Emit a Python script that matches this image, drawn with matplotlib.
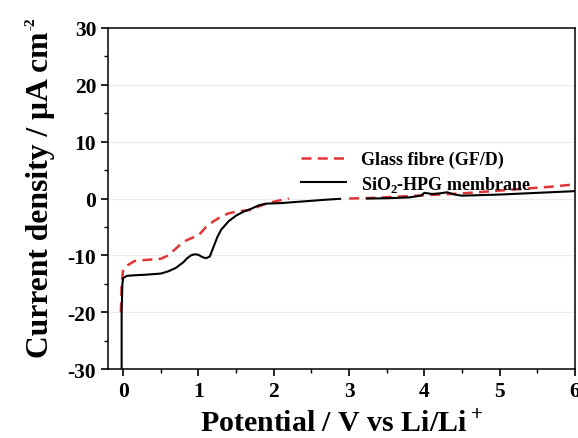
import numpy as np
import matplotlib.pyplot as plt

plt.rcParams['font.family'] = ['Liberation Serif', 'DejaVu Serif']
plt.rcParams['font.weight'] = 'bold'
plt.rcParams['mathtext.fontset'] = 'custom'
plt.rcParams['mathtext.rm'] = 'Liberation Serif:bold'
plt.rcParams['mathtext.bf'] = 'Liberation Serif:bold'
plt.rcParams['axes.unicode_minus'] = False

# === Datos: SiO2-HPG (linea negra)
x_hpg = [-0.02, -0.02, -0.01, 0.0, 0.05, 0.15, 0.3, 0.4, 0.5, 0.6, 0.7, 0.8, 0.85, 0.9,
         0.95, 1.0, 1.05, 1.1, 1.15, 1.2, 1.25, 1.3, 1.4, 1.5, 1.6, 1.7, 1.8, 1.9,
         2.1, 2.3, 2.5, 2.7, 2.88, np.nan, 3.24, 3.5, 3.8, 3.95, 4.0, 4.1, 4.2, 4.3,
         4.4, 4.5, 5.0, 5.5, 6.0]
y_hpg = [-30, -20, -15, -14, -13.6, -13.5, -13.4, -13.3, -13.2, -12.8, -12.2, -11.2, -10.5, -10.0,
         -9.8, -9.9, -10.3, -10.5, -10.2, -8.5, -6.8, -5.5, -4.0, -3.0, -2.3, -1.8, -1.2, -0.9,
         -0.8, -0.6, -0.4, -0.2, -0.05, np.nan, 0.0, 0.05, 0.2, 0.5, 1.0, 0.8, 0.9, 1.1,
         0.7, 0.5, 0.7, 1.0, 1.3]

# === Datos: Glass fibre GF/D (linea roja discontinua)
x_gf = [-0.03, -0.02, 0.0, 0.05, 0.15, 0.3, 0.5, 0.6, 0.7, 0.8, 0.9, 1.0, 1.1, 1.2,
        1.3, 1.4, 1.55, 1.7, 1.8, 1.9, 2.05, 2.2, np.nan, 3.0, 3.3, 3.6, 3.9, 4.2,
        4.5, 4.9, 5.3, 5.7, 6.0]
y_gf = [-20, -15, -12.5, -11.8, -11.0, -10.8, -10.6, -10.0, -8.8, -7.6, -7.0, -6.5, -5.0, -4.0,
        -3.2, -2.6, -2.2, -2.0, -1.4, -0.9, -0.4, 0.0, np.nan, 0.0, 0.1, 0.3, 0.5, 0.7,
        0.9, 1.3, 1.7, 2.1, 2.5]

fig = plt.figure(figsize=(5.78, 4.39), dpi=100)
ax = fig.add_axes([0.187, 0.157, 0.808, 0.777])

ax.plot(x_gf, y_gf, color='#e03535', lw=1.8, ls=(0, (4, 2.5)), label='Glass fibre (GF/D)')
ax.plot(x_hpg, y_hpg, color='black', lw=1.5, label=r'SiO$_2$-HPG membrane')

ax.set_xlim(-0.2, 6)
ax.set_ylim(-30, 30)
ax.set_xticks(np.arange(0, 7, 1))
ax.set_xticks(np.arange(-0.0, 6.01, 0.5), minor=True)
ax.set_yticks(np.arange(-30, 31, 10))
ax.set_yticks(np.arange(-30, 31, 5), minor=True)
ax.tick_params(which='major', direction='out', length=5, width=1.2, labelsize=15.5)
ax.tick_params(which='minor', direction='out', length=3, width=1)
for s in ax.spines.values():
    s.set_linewidth(1.1)

for yv in [-20, -10, 0, 10, 20]:
    ax.axhline(yv, color='#ececec', lw=0.8, zorder=0)

ax.set_xlabel(r'Potential / V vs Li/Li$^+$', fontsize=21.5, fontweight='bold', labelpad=6)

# === Etiqueta y con superindice pequeño
ylab = fig.text(0.07, 0.556, 'Current density / \u03bcA cm', rotation=90,
                fontsize=22.8, fontweight='bold', ha='center', va='center')
fig.canvas.draw()
bb = ylab.get_window_extent()
fig.text((bb.x0 - 1) / fig.bbox.width, (bb.y1 + 2) / fig.bbox.height, '-2', rotation=90,
         fontsize=11, fontweight='bold', ha='left', va='bottom')

leg = ax.legend(loc='upper left', bbox_to_anchor=(0.379, 0.687), frameon=False, fontsize=13,
                handlelength=2.5, handletextpad=0.8, labelspacing=0.3)

fig.savefig('out.png', dpi=100)
